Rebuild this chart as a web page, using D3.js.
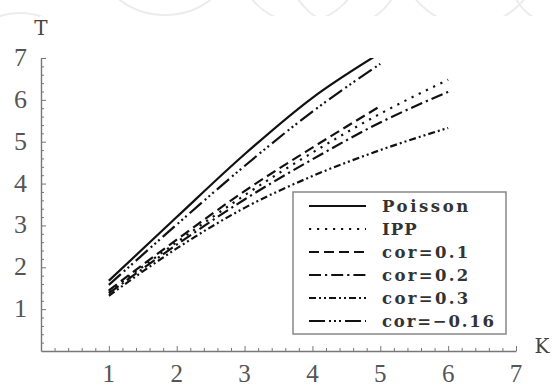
<!DOCTYPE html>
<html>
<head>
<meta charset="utf-8">
<script src="https://cdn.jsdelivr.net/npm/d3@7"></script>
<style>
  html, body { margin: 0; padding: 0; background: #fff; }
  svg { display: block; }
  .slab { font-family: "DejaVu Serif", serif; }
  .tick-label { font-family: "Liberation Serif", "DejaVu Serif", serif; }
</style>
</head>
<body>
<svg id="chart" width="552" height="387"></svg>
<script>
// Mean number of tasks T against K for several arrival models
const kPoisson = [1, 2, 3, 4, 5];
const tPoisson = [1.68, 3.2, 4.7, 6.05, 7.12];
const kIPP = [1, 2, 3, 4, 5, 6];
const tIPP = [1.42, 2.6, 3.72, 4.74, 5.67, 6.48];
const kCor01 = [1, 2, 3, 4, 5];
const tCor01 = [1.45, 2.66, 3.82, 4.86, 5.85];
const kCor02 = [1, 2, 3, 4, 5, 6];
const tCor02 = [1.38, 2.54, 3.62, 4.58, 5.46, 6.19];
const kCor03 = [1, 2, 3, 4, 5, 6];
const tCor03 = [1.32, 2.45, 3.42, 4.18, 4.8, 5.33];
const kCorNeg = [1, 2, 3, 4, 5];
const tCorNeg = [1.58, 3.02, 4.42, 5.72, 6.86];

const seriesNames = ["Poisson", "IPP", "cor=0.1", "cor=0.2", "cor=0.3", "cor=\u22120.16"];
const xTicks = [1, 2, 3, 4, 5, 6, 7];
const yTicks = [1, 2, 3, 4, 5, 6, 7];

const series = [
  { name: seriesNames[0], k: kPoisson, t: tPoisson, dash: null },
  { name: seriesNames[1], k: kIPP, t: tIPP, dash: "2.2,5.8" },
  { name: seriesNames[2], k: kCor01, t: tCor01, dash: "10,5" },
  { name: seriesNames[3], k: kCor02, t: tCor02, dash: "12,4,2.2,4" },
  { name: seriesNames[4], k: kCor03, t: tCor03, dash: "7,3,2,3,2,3" },
  { name: seriesNames[5], k: kCorNeg, t: tCorNeg, dash: "16,4,2,3,2,3,2,4" }
];

const svg = d3.select("#chart");

// faint decorative arcs along the top and left margins
svg.append("clipPath").attr("id", "decoClip").append("path")
  .attr("d", "M0,0H552V16H40V100H0Z");
const deco = svg.append("g").attr("fill", "none").attr("stroke", "#ececec")
  .attr("stroke-width", 2).attr("clip-path", "url(#decoClip)");
[[20, 75, 62], [165, -60, 75], [300, -40, 62], [345, -30, 55], [470, -45, 70], [560, -25, 50]]
  .forEach(([cx, cy, r]) => deco.append("circle").attr("cx", cx).attr("cy", cy).attr("r", r));

const x = d3.scaleLinear().domain([0, 7]).range([41, 516]);
const y = d3.scaleLinear().domain([0, 7]).range([351, 58]);

const axisColor = "#777";
const labelColor = "#555";

// minor + major ticks on both axes
const minor = d3.range(0, 7.001, 0.2).map(v => +v.toFixed(1));
const isMajor = v => Math.abs(v - Math.round(v)) < 1e-6;

const xAxis = d3.axisBottom(x).tickValues(minor.filter(v => v > 0))
  .tickSizeInner(0).tickSizeOuter(0).tickFormat("");
const gx = svg.append("g").attr("transform", `translate(0,${y(0)})`).call(xAxis);
gx.select(".domain").attr("stroke", axisColor).attr("stroke-width", 1.4);
gx.selectAll(".tick line").attr("stroke", axisColor)
  .attr("y2", d => isMajor(d) ? -5 : -3);

const yAxis = d3.axisLeft(y).tickValues(minor.filter(v => v > 0))
  .tickSizeInner(0).tickSizeOuter(0).tickFormat("");
const gy = svg.append("g").attr("transform", `translate(${x(0)},0)`).call(yAxis);
gy.select(".domain").attr("stroke", axisColor).attr("stroke-width", 1.4);
gy.selectAll(".tick line").attr("stroke", axisColor)
  .attr("x2", d => isMajor(d) ? 5 : 3);

// tick labels
svg.append("g").selectAll("text").data(xTicks).join("text")
  .attr("class", "tick-label")
  .attr("x", d => x(d)).attr("y", 382)
  .attr("text-anchor", "middle")
  .attr("font-size", 25).attr("fill", labelColor)
  .text(d => d);

svg.append("g").selectAll("text").data(yTicks).join("text")
  .attr("class", "tick-label")
  .attr("x", 27).attr("y", d => y(d) + 8)
  .attr("text-anchor", "end")
  .attr("font-size", 26).attr("fill", labelColor)
  .text(d => d);

// axis names
svg.append("text").attr("class", "slab").attr("x", 41).attr("y", 35).attr("text-anchor", "middle")
  .attr("font-size", 20).attr("fill", "#444").text("T");
svg.append("text").attr("class", "slab").attr("x", 542).attr("y", 353).attr("text-anchor", "middle")
  .attr("font-size", 20).attr("fill", "#444").text("K");

// curves, clipped to the plot range
svg.append("clipPath").attr("id", "plotClip").append("rect")
  .attr("x", x(0)).attr("y", y(7)).attr("width", x(7) - x(0)).attr("height", y(0) - y(7));

const line = d3.line().x(d => x(d[0])).y(d => y(d[1])).curve(d3.curveMonotoneX);
const gl = svg.append("g").attr("clip-path", "url(#plotClip)");
series.forEach(s => {
  gl.append("path")
    .datum(s.k.map((k, i) => [k, s.t[i]]))
    .attr("d", line)
    .attr("fill", "none")
    .attr("stroke", "#111")
    .attr("stroke-width", 2.2)
    .attr("stroke-dasharray", s.dash);
});

// legend (fixed advance per character, like a typewriter face)
const lg = svg.append("g");
lg.append("rect").attr("x", 293).attr("y", 192).attr("width", 213).attr("height", 142)
  .attr("fill", "#fff").attr("stroke", "#888").attr("stroke-width", 1.5);
const rowY = d3.scalePoint().domain(seriesNames).range([206, 321]);
series.forEach(s => {
  const yy = rowY(s.name);
  lg.append("line").attr("x1", 309).attr("x2", 366).attr("y1", yy).attr("y2", yy)
    .attr("stroke", "#111").attr("stroke-width", 2.2).attr("stroke-dasharray", s.dash);
  lg.append("text").attr("class", "slab").attr("x", 382).attr("y", yy + 6)
    .attr("font-weight", "bold")
    .attr("font-size", 16.5).attr("fill", "#333")
    .attr("textLength", s.name.length * 12.9 - 4)
    .attr("lengthAdjust", "spacing")
    .text(s.name);
});
</script>
</body>
</html>
